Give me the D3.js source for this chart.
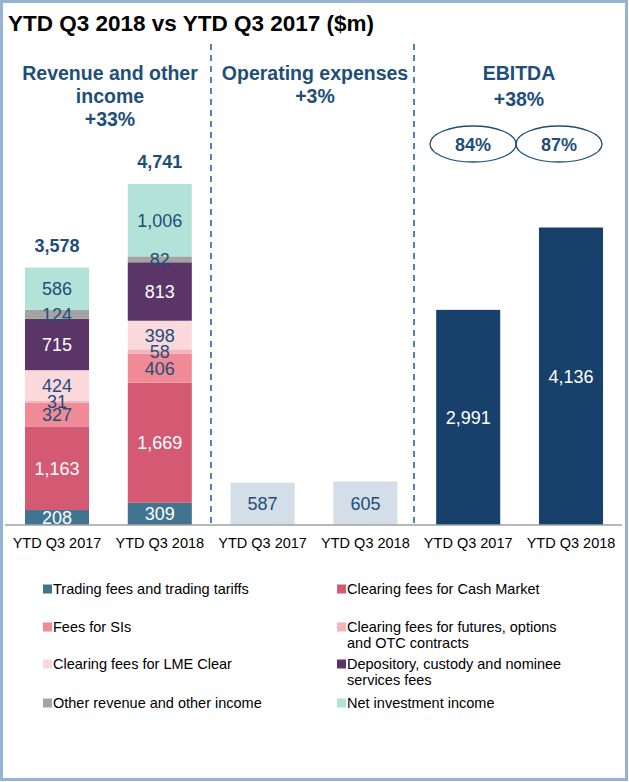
<!DOCTYPE html>
<html>
<head>
<meta charset="utf-8">
<script src="https://cdn.jsdelivr.net/npm/d3@7"></script>
<style>
  body { margin: 0; background: #fff; }
  svg { display: block; font-family: "Liberation Sans", Arial, sans-serif; }
</style>
</head>
<body>
<script>
// periods and stacked revenue series, bottom to top
var periods = ["YTD Q3 2017", "YTD Q3 2018"];
var revenueSeries = [
  "Trading fees and trading tariffs",
  "Clearing fees for Cash Market",
  "Fees for SIs",
  "Clearing fees for futures, options and OTC contracts",
  "Clearing fees for LME Clear",
  "Depository, custody and nominee services fees",
  "Other revenue and other income",
  "Net investment income"
];
var revenue2017 = [208, 1163, 327, 31, 424, 715, 124, 586];
var revenue2018 = [309, 1669, 406, 58, 398, 813, 82, 1006];
var revenueTotals = [3578, 4741];
var opex = [587, 605];
var ebitda = [2991, 4136];
var ebitdaMargins = ["84%", "87%"];
var sectionTitles = [
  ["Revenue and other", "income", "+33%"],
  ["Operating expenses", "+3%"],
  ["EBITDA", "+38%"]
];

var colors = ["#41748f", "#d45a73", "#ef8a96", "#f5b3bb", "#fad8dc", "#5b3468", "#a3a3a3", "#b3e3d8"];
var darkLabel = [true, true, false, false, false, true, false, false];
var navy = "#1f4e79";

var W = 629, H = 782, baseY = 525;

var svg = d3.select("body").append("svg")
  .attr("width", W).attr("height", H);

// frame
svg.append("rect")
  .attr("x", 1.5).attr("y", 1.5)
  .attr("width", W - 4).attr("height", H - 4)
  .attr("fill", "#fff")
  .attr("stroke", "#95b3d7").attr("stroke-width", 3);

svg.append("text")
  .attr("x", 8).attr("y", 31)
  .attr("font-size", "22.5px").attr("font-weight", "bold")
  .attr("fill", "#000")
  .text("YTD Q3 2018 vs YTD Q3 2017 ($m)");

// six slots: 2 revenue, 2 opex, 2 ebitda
var slots = d3.range(6);
var x = d3.scaleBand().domain(slots).range([5.6, 622.4])
  .paddingInner(0.377).paddingOuter(0.1885);
var y = d3.scaleLinear().domain([0, 4741]).range([baseY, 184]);

// dashed separators
[211, 414].forEach(function(sx) {
  svg.append("line")
    .attr("x1", sx).attr("x2", sx).attr("y1", 44).attr("y2", baseY)
    .attr("stroke", "#4f81bd").attr("stroke-width", 2)
    .attr("stroke-dasharray", "6,5");
});

// section headers
var headerX = [110, 315, 519];
sectionTitles.forEach(function(lines, i) {
  var t = svg.append("text")
    .attr("text-anchor", "middle")
    .attr("font-size", "19.5px").attr("font-weight", "bold")
    .attr("fill", navy);
  lines.forEach(function(l, j) {
    t.append("tspan").attr("x", headerX[i]).attr("y", 80 + j * 23 + (i == 2 && j == 1 ? 3 : 0)).text(l);
  });
});

// stacked revenue bars
[revenue2017, revenue2018].forEach(function(vals, p) {
  var cum = 0;
  var segs = vals.map(function(v, k) {
    var s = { k: k, v: v, y0: cum, y1: cum + v };
    cum += v;
    return s;
  });
  var g = svg.append("g");
  g.selectAll("rect").data(segs).enter().append("rect")
    .attr("x", x(p)).attr("width", x.bandwidth())
    .attr("y", function(d) { return y(d.y1); })
    .attr("height", function(d) { return y(d.y0) - y(d.y1); })
    .attr("fill", function(d) { return colors[d.k]; });
  g.selectAll("text").data(segs).enter().append("text")
    .attr("x", x(p) + x.bandwidth() / 2)
    .attr("y", function(d) { return (y(d.y0) + y(d.y1)) / 2 + 6.5; })
    .attr("text-anchor", "middle")
    .attr("font-size", "18px")
    .attr("fill", function(d) { return darkLabel[d.k] ? "#fff" : navy; })
    .text(function(d) { return d3.format(",")(d.v); });
  svg.append("text")
    .attr("x", x(p) + x.bandwidth() / 2)
    .attr("y", y(revenueTotals[p]) - 16)
    .attr("text-anchor", "middle")
    .attr("font-size", "18px").attr("font-weight", "bold")
    .attr("fill", navy)
    .text(d3.format(",")(revenueTotals[p]));
});

// simple bars: opex and ebitda
function simpleBars(vals, offset, fill, labelFill) {
  vals.forEach(function(v, i) {
    var s = offset + i;
    svg.append("rect")
      .attr("x", x(s)).attr("width", x.bandwidth())
      .attr("y", y(v)).attr("height", baseY - y(v))
      .attr("fill", fill);
    svg.append("text")
      .attr("x", x(s) + x.bandwidth() / 2)
      .attr("y", (y(v) + baseY) / 2 + 6.5)
      .attr("text-anchor", "middle")
      .attr("font-size", "18px")
      .attr("fill", labelFill)
      .text(d3.format(",")(v));
  });
}
simpleBars(opex, 2, "#d3dee8", navy);
simpleBars(ebitda, 4, "#17416b", "#fff");

// margin ellipses
var ellX = [473, 559];
ebitdaMargins.forEach(function(m, i) {
  svg.append("ellipse")
    .attr("cx", ellX[i]).attr("cy", 144).attr("rx", 43).attr("ry", 18)
    .attr("fill", "none").attr("stroke", navy).attr("stroke-width", 1.3);
  svg.append("text")
    .attr("x", ellX[i]).attr("y", 150.5)
    .attr("text-anchor", "middle")
    .attr("font-size", "18px").attr("font-weight", "bold")
    .attr("fill", navy).text(m);
});

// axis
var xAxis = d3.axisBottom(x).tickSize(0).tickPadding(13)
  .tickFormat(function(d) { return periods[d % 2]; });
var axG = svg.append("g").attr("transform", "translate(0," + baseY + ")").call(xAxis);
axG.select(".domain").attr("stroke", "#a0a0a0").attr("stroke-width", 1.5)
  .attr("d", "M5,0H622");
axG.selectAll("text").attr("font-size", "14.5px").attr("fill", "#000")
  .attr("font-family", "'Liberation Sans', Arial, sans-serif");

// legend
var legendLines = [
  ["Trading fees and trading tariffs"],
  ["Clearing fees for Cash Market"],
  ["Fees for SIs"],
  ["Clearing fees for futures, options", "and OTC contracts"],
  ["Clearing fees for LME Clear"],
  ["Depository, custody and nominee", "services fees"],
  ["Other revenue and other income"],
  ["Net investment income"]
];
var rowY = [589, 627, 664, 703];
var leg = svg.append("g");
revenueSeries.forEach(function(name, k) {
  var col = k % 2, row = Math.floor(k / 2);
  var lx = col ? 337 : 43, ly = rowY[row];
  leg.append("rect")
    .attr("x", lx).attr("y", ly - 4.5).attr("width", 9).attr("height", 9)
    .attr("fill", colors[k]);
  var t = leg.append("text").attr("font-size", "14.5px").attr("fill", "#000");
  legendLines[k].forEach(function(l, j) {
    t.append("tspan").attr("x", lx + 10).attr("y", ly + 5 + j * 16).text(l);
  });
});
</script>
</body>
</html>
